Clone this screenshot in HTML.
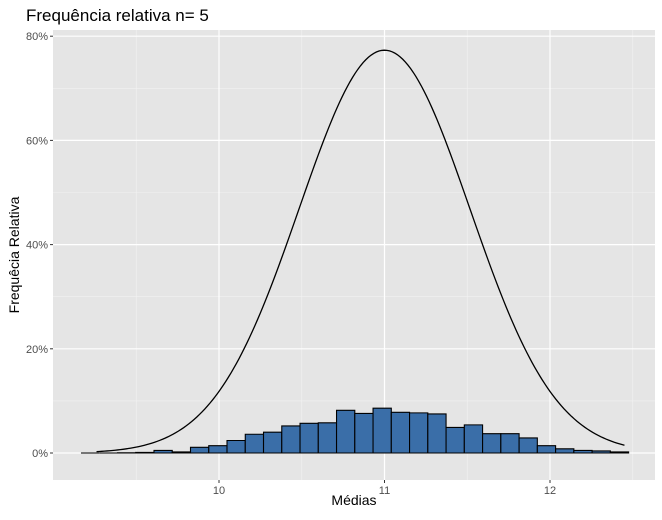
<!DOCTYPE html>
<html><head><meta charset="utf-8"><style>
body{margin:0;background:#fff;font-family:"Liberation Sans",sans-serif}
</style></head><body>
<svg width="662" height="515" xmlns="http://www.w3.org/2000/svg">
<text x="26" y="21" font-size="17" fill="#000">Frequência relativa n= 5</text>
<rect x="53" y="30" width="602" height="450" fill="#e5e5e5"/>
<g id="grid"></g>
<g id="bars"></g>
<path id="curve" fill="none" stroke="#000" stroke-width="1.3"/>
<g id="ticks" font-size="11" fill="#4d4d4d"></g>
<text x="354" y="505" font-size="14" text-anchor="middle">Médias</text>
<text transform="translate(19,255) rotate(-90)" font-size="14" text-anchor="middle">Frequêcia Relativa</text>
</svg>
<script>
const binStart = 9.166;
const binWidth = 0.1103;
const freqs = [0,0,0.05,0.1,0.5,0.2,1.1,1.4,2.4,3.6,4.0,5.2,5.7,5.8,8.2,7.6,8.6,7.8,7.7,7.5,4.9,5.4,3.7,3.7,2.9,1.4,0.8,0.5,0.4,0.2];
const xTicks = [10,11,12];
const xMinor = [9.5,10.5,11.5,12.5];
const yTicks = [0,20,40,60,80];
const yTickLabels = ["0%","20%","40%","60%","80%"];
const yMinor = [10,30,50,70];
const curveMean = 11, curveSd = 0.516, curveFrom = 9.26, curveTo = 12.45;
const X = v => 219 + (v - 10) * 165.5;
const Y = p => 453 - p * 5.21;
const NS = "http://www.w3.org/2000/svg";
function mk(tag, attrs, parent){const e=document.createElementNS(NS,tag);for(const k in attrs)e.setAttribute(k,attrs[k]);parent.appendChild(e);return e;}
const grid=document.getElementById('grid'), bars=document.getElementById('bars'), ticks=document.getElementById('ticks');
xMinor.forEach(v=>{const l=mk('line',{x1:X(v),x2:X(v),y1:30,y2:480,stroke:'#f2f2f2','stroke-width':0.6},grid);

});
yMinor.forEach(v=>{const l=mk('line',{x1:53,x2:655,y1:Y(v),y2:Y(v),stroke:'#f2f2f2','stroke-width':0.6},grid);

});
xTicks.forEach(v=>{const l=mk('line',{x1:X(v),x2:X(v),y1:30,y2:480,stroke:'#fff','stroke-width':1.2},grid);


mk('line',{x1:X(v),x2:X(v),y1:480,y2:483,stroke:'#333'},ticks);
const t=mk('text',{x:X(v),y:494,'text-anchor':'middle'},ticks);t.textContent=v;

});
yTicks.forEach((v,i)=>{const l=mk('line',{x1:53,x2:655,y1:Y(v),y2:Y(v),stroke:'#fff','stroke-width':1.2},grid);


mk('line',{x1:50,x2:53,y1:Y(v),y2:Y(v),stroke:'#333'},ticks);
const t=mk('text',{x:48,y:Y(v)+4,'text-anchor':'end'},ticks);t.textContent=yTickLabels[i];

});
freqs.forEach((f,i)=>{const x0=X(binStart+i*binWidth),x1=X(binStart+(i+1)*binWidth),y0=Y(0),y1=Y(f);
const r=mk('path',{d:`M${x0},${y0}L${x0},${y1}L${x1},${y1}L${x1},${y0}Z`,fill:'#3a6ea8',stroke:'#000','stroke-width':1.1},bars);

});
let d='';for(let k=0;k<=200;k++){const v=curveFrom+(curveTo-curveFrom)*k/200;
const p=100*Math.exp(-((v-curveMean)**2)/(2*curveSd*curveSd))/(curveSd*Math.sqrt(2*Math.PI));
d+=(k?'L':'M')+X(v).toFixed(2)+','+Y(p).toFixed(2);}
document.getElementById('curve').setAttribute('d',d);
</script>
</body></html>
